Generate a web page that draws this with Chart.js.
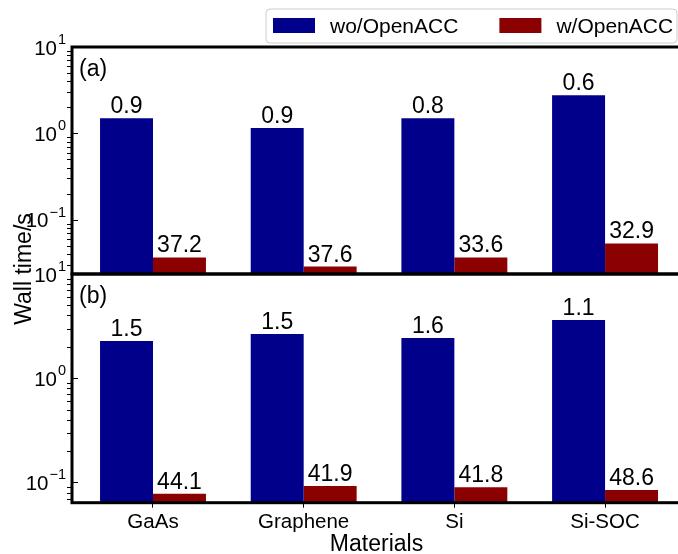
<!DOCTYPE html>
<html>
<head>
<meta charset="utf-8">
<script src="https://cdn.jsdelivr.net/npm/chart.js@4.4.0/dist/chart.umd.min.js"></script>
<style>
  html, body { margin: 0; padding: 0; background: #fff; }
  #wrap { position: relative; width: 678px; height: 554px; overflow: hidden; }
  #wrap canvas { position: absolute; left: 0; top: 0; }
</style>
</head>
<body>
<div id="wrap">
  <canvas id="panelA" width="700" height="554"></canvas>
  <canvas id="panelB" width="700" height="554"></canvas>
</div>
<script>
const materials = ['GaAs', 'Graphene', 'Si', 'Si-SOC'];
const seriesNames = ['wo/OpenACC', 'w/OpenACC'];

// (a) wall times and the numbers printed over each bar
const timeA_wo = [1.50, 1.15, 1.50, 2.77];
const timeA_w = [0.0365, 0.0287, 0.0365, 0.0531];
const labelA_wo = ['0.9', '0.9', '0.8', '0.6'];
const labelA_w = ['37.2', '37.6', '33.6', '32.9'];

// (b)
const timeB_wo = [2.28, 2.66, 2.43, 3.62];
const timeB_w = [0.0778, 0.0927, 0.0901, 0.0849];
const labelB_wo = ['1.5', '1.5', '1.6', '1.1'];
const labelB_w = ['44.1', '41.9', '41.8', '48.6'];

const decadeTicks = [10, 1, 0.1];

const FONT = "'Liberation Sans', Arial, sans-serif";
const BLUE = '#00008b';
const RED = '#8b0000';

Chart.defaults.font.family = FONT;
Chart.defaults.color = '#000';

// frame, log ticks, bar numbers, panel tag (+ legend and y title on the top panel)
const panelDecor = {
  id: 'panelDecor',
  afterDatasetsDraw(chart, args, opts) {
    const { ctx, chartArea: a } = chart;
    const ys = chart.scales.y;
    ctx.save();

    // numbers above the bars
    ctx.fillStyle = '#000';
    ctx.font = '23px ' + FONT;
    ctx.textAlign = 'center';
    ctx.textBaseline = 'alphabetic';
    chart.data.datasets.forEach((ds, di) => {
      chart.getDatasetMeta(di).data.forEach((bar, i) => {
        ctx.fillText(ds.valueLabels[i], bar.x, bar.y - 5);
      });
    });

    // log ticks: majors point in, minors point out
    ctx.strokeStyle = '#000';
    ctx.lineWidth = 1;
    for (let k = -3; k <= 1; k++) {
      for (let m = 1; m <= 9; m++) {
        const v = m * Math.pow(10, k);
        if (v < ys.min || v > ys.max * 1.0001) continue;
        const py = Math.round(ys.getPixelForValue(v)) + 0.5;
        ctx.beginPath();
        if (m === 1) {
          ctx.moveTo(a.left, py);
          ctx.lineTo(a.left + 6, py);
        } else {
          ctx.moveTo(a.left - 5, py);
          ctx.lineTo(a.left, py);
        }
        ctx.stroke();
      }
    }

    // decade labels as 10 with a raised exponent
    decadeTicks.forEach(v => {
      if (v < ys.min || v > ys.max * 1.0001) return;
      const py = ys.getPixelForValue(v);
      const e = Math.round(Math.log10(v));
      const sup = e < 0 ? '\u2212' + Math.abs(e) : String(e);
      ctx.textAlign = 'left';
      ctx.font = '14.5px ' + FONT;
      const ws = ctx.measureText(sup).width;
      ctx.font = '20.5px ' + FONT;
      const wb = ctx.measureText('10').width;
      const x0 = a.left - 7 - ws - wb;
      ctx.fillText('10', x0, py + 7.5);
      ctx.font = '14.5px ' + FONT;
      ctx.fillText(sup, x0 + wb + 1, py - 3);
    });

    // panel tag
    ctx.font = '23px ' + FONT;
    ctx.textAlign = 'left';
    ctx.fillText(opts.tag, a.left + 7, a.top + 29);

    // spines
    ctx.lineWidth = 3;
    ctx.strokeRect(a.left, a.top, a.right - a.left, a.bottom - a.top);

    if (opts.legend) {
      // legend frame
      const lx = 266, ly = 9, lw = 411, lh = 34, r = 4;
      ctx.beginPath();
      ctx.moveTo(lx + r, ly);
      ctx.arcTo(lx + lw, ly, lx + lw, ly + lh, r);
      ctx.arcTo(lx + lw, ly + lh, lx, ly + lh, r);
      ctx.arcTo(lx, ly + lh, lx, ly, r);
      ctx.arcTo(lx, ly, lx + lw, ly, r);
      ctx.closePath();
      ctx.fillStyle = 'rgba(255,255,255,0.8)';
      ctx.fill();
      ctx.lineWidth = 1;
      ctx.strokeStyle = '#cccccc';
      ctx.stroke();

      ctx.font = '21px ' + FONT;
      ctx.textAlign = 'left';
      let x = 273;
      chart.data.datasets.forEach(ds => {
        ctx.fillStyle = ds.backgroundColor;
        ctx.fillRect(x, 18, 42, 15);
        ctx.fillStyle = '#000';
        ctx.fillText(ds.label, x + 57, 33);
        x += 57 + ctx.measureText(ds.label).width + 41;
      });
    }

    if (opts.yTitle) {
      ctx.fillStyle = '#000';
      ctx.font = '23px ' + FONT;
      ctx.textAlign = 'center';
      ctx.textBaseline = 'alphabetic';
      ctx.translate(31, 269);
      ctx.rotate(-Math.PI / 2);
      ctx.fillText(opts.yTitle, 0, 0);
    }
    ctx.restore();
  }
};

function makePanel(id, p) {
  const toPoints = arr => arr.map((v, i) => ({ x: i, y: v }));
  return new Chart(document.getElementById(id), {
    type: 'bar',
    data: {
      datasets: [
        { label: seriesNames[0], data: toPoints(p.wo), backgroundColor: BLUE,
          valueLabels: p.woLabels, categoryPercentage: 0.703, barPercentage: 1 },
        { label: seriesNames[1], data: toPoints(p.w), backgroundColor: RED,
          valueLabels: p.wLabels, categoryPercentage: 0.703, barPercentage: 1 }
      ]
    },
    options: {
      responsive: false,
      animation: false,
      layout: { padding: p.padding },
      plugins: {
        legend: { display: false },
        tooltip: { enabled: false },
        panelDecor: { tag: p.tag, legend: p.legend, yTitle: p.yTitle }
      },
      scales: {
        x: {
          type: 'linear',
          min: -0.5375,
          max: 3.504,
          offset: false,
          display: p.showX,
          afterBuildTicks: s => { s.ticks = materials.map((m, i) => ({ value: i })); },
          afterFit: s => { s.height = p.showX ? 51.3 : 0; },
          ticks: {
            callback: v => materials[v],
            font: { size: 20.5 },
            color: '#000',
            padding: 2,
            autoSkip: false,
            maxRotation: 0
          },
          grid: { offset: false, drawOnChartArea: false, drawTicks: true, tickLength: 5, color: '#000', lineWidth: 1 },
          border: { display: false },
          title: {
            display: true,
            text: 'Materials',
            color: '#000',
            font: { size: 23, lineHeight: 1 },
            padding: { top: 0, bottom: -2 }
          }
        },
        y: {
          type: 'logarithmic',
          min: p.yMin,
          max: p.yMax,
          display: false
        }
      }
    },
    plugins: [panelDecor]
  });
}

makePanel('panelA', {
  wo: timeA_wo, w: timeA_w, woLabels: labelA_wo, wLabels: labelA_w,
  tag: '(a)', legend: true, yTitle: 'Wall time/s', showX: false,
  yMin: 0.0235, yMax: 10,
  padding: { left: 72, right: 19, top: 47, bottom: 280 }
});

makePanel('panelB', {
  wo: timeB_wo, w: timeB_w, woLabels: labelB_wo, wLabels: labelB_w,
  tag: '(b)', legend: false, yTitle: null, showX: true,
  yMin: 0.064, yMax: 10,
  padding: { left: 72, right: 19, top: 274, bottom: 0 }
});
</script>
</body>
</html>
